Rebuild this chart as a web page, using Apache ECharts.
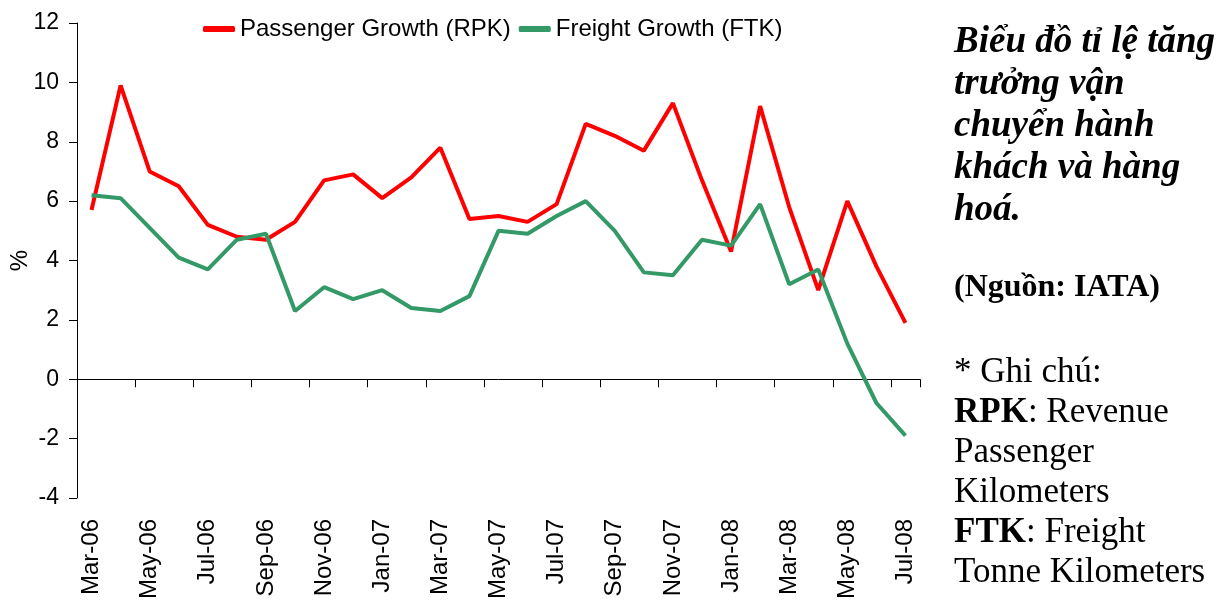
<!DOCTYPE html>
<html>
<head>
<meta charset="utf-8">
<script src="https://cdn.jsdelivr.net/npm/echarts@6/dist/echarts.min.js"></script>
<style>
  html, body { margin: 0; padding: 0; background: #fff; }
  #chart { width: 1219px; height: 601px; }
</style>
</head>
<body>
<div id="chart"></div>
<script>
const categories = ['Mar-06','Apr-06','May-06','Jun-06','Jul-06','Aug-06','Sep-06','Oct-06','Nov-06','Dec-06',
  'Jan-07','Feb-07','Mar-07','Apr-07','May-07','Jun-07','Jul-07','Aug-07','Sep-07','Oct-07','Nov-07','Dec-07',
  'Jan-08','Feb-08','Mar-08','Apr-08','May-08','Jun-08','Jul-08'];
const passengerGrowth = [5.7, 9.9, 7.0, 6.5, 5.2, 4.8, 4.7, 5.3, 6.7, 6.9, 6.1, 6.8, 7.8, 5.4, 5.5, 5.3, 5.9, 8.6, 8.2, 7.7, 9.3, 6.7, 4.3, 9.2, 5.8, 3.0, 6.0, 3.8, 1.9];
const freightGrowth = [6.2, 6.1, 5.1, 4.1, 3.7, 4.7, 4.9, 2.3, 3.1, 2.7, 3.0, 2.4, 2.3, 2.8, 5.0, 4.9, 5.5, 6.0, 5.0, 3.6, 3.5, 4.7, 4.5, 5.9, 3.2, 3.7, 1.2, -0.8, -1.9];
const seriesNames = ['Passenger Growth (RPK)', 'Freight Growth (FTK)'];
const yAxisName = '%';
const titleLines = ['Biểu đồ tỉ lệ tăng', 'trưởng vận', 'chuyển hành', 'khách và hàng', 'hoá.'];
const sourceText = '(Nguồn: IATA)';
const noteLines = ['* Ghi chú:', '{b|RPK}: Revenue', 'Passenger', 'Kilometers', '{b|FTK}: Freight', 'Tonne Kilometers'];

const chart = echarts.init(document.getElementById('chart'));
const sans = '"Liberation Sans", Arial, sans-serif';
const serif = '"Liberation Serif", "Times New Roman", serif';

chart.setOption({
  animation: false,
  backgroundColor: '#fff',
  grid: { left: 77, right: 299, top: 23, bottom: 103, containLabel: false, outerBoundsMode: 'none' },
  legend: {
    left: 203, top: 17, padding: 0,
    icon: 'roundRect',
    itemWidth: 32, itemHeight: 6, itemGap: 8,
    textStyle: { fontFamily: sans, fontSize: 24, color: '#000' },
    data: seriesNames
  },
  xAxis: [
    {
      type: 'category', data: categories, position: 'bottom', boundaryGap: true,
      axisLine: { onZero: true, lineStyle: { color: '#000', width: 1 } },
      axisTick: { show: true, interval: 1, length: 8, lineStyle: { color: '#000' } },
      axisLabel: { show: false },
      splitLine: { show: false }
    },
    {
      type: 'category', data: categories, position: 'bottom', boundaryGap: true,
      axisLine: { show: false, onZero: false },
      axisTick: { show: false },
      axisLabel: { show: true, interval: 1, rotate: 90, margin: 21, fontFamily: sans, fontSize: 24, color: '#000' },
      splitLine: { show: false }
    }
  ],
  yAxis: {
    type: 'value', min: -4, max: 12, interval: 2,
    name: yAxisName, nameLocation: 'middle', nameRotate: 90, nameGap: 45, nameMoveOverlap: false,
    nameTextStyle: { fontFamily: sans, fontSize: 24, color: '#000' },
    axisLine: { show: true, lineStyle: { color: '#000', width: 1 } },
    axisTick: { show: true, length: 8, lineStyle: { color: '#000' } },
    axisLabel: { margin: 18, fontFamily: sans, fontSize: 23, color: '#000' },
    splitLine: { show: false }
  },
  series: [
    {
      name: seriesNames[0], type: 'line', xAxisIndex: 0, data: passengerGrowth,
      symbol: 'none', lineStyle: { color: '#FF0000', width: 4 }, itemStyle: { color: '#FF0000' }
    },
    {
      name: seriesNames[1], type: 'line', xAxisIndex: 0, data: freightGrowth,
      symbol: 'none', lineStyle: { color: '#339966', width: 4 }, itemStyle: { color: '#339966' }
    }
  ],
  graphic: [
    {
      type: 'text', left: 954, top: 21,
      style: {
        text: titleLines.join('\n'),
        font: 'italic bold 37px ' + serif,
        lineHeight: 42, fill: '#000'
      }
    },
    {
      type: 'text', left: 954, top: 268,
      style: {
        text: sourceText,
        font: 'bold 32px ' + serif,
        lineHeight: 40, fill: '#000'
      }
    },
    {
      type: 'text', left: 954, top: 353,
      style: {
        text: noteLines.join('\n'),
        font: '35px ' + serif,
        lineHeight: 40, fill: '#000',
        rich: {
          b: { font: 'bold 35px ' + serif, lineHeight: 40, fill: '#000' }
        }
      }
    }
  ]
});
</script>
</body>
</html>
